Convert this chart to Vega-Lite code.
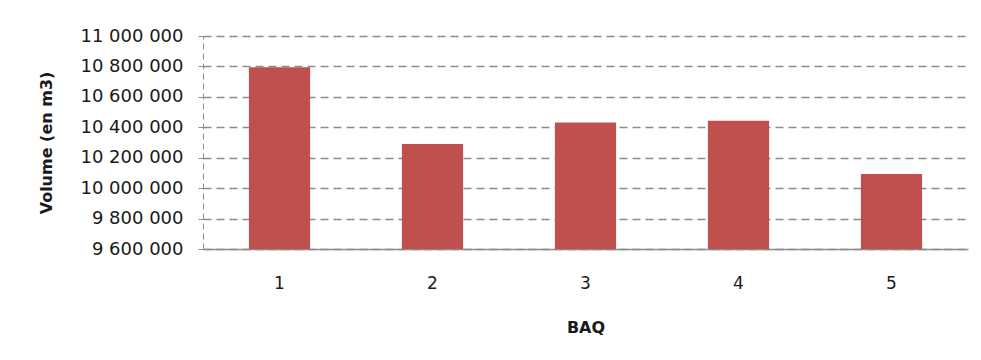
{
  "$schema": "https://vega.github.io/schema/vega-lite/v6.json",
  "width": 765,
  "height": 213,
  "autosize": {"type": "none"},
  "padding": {"left": 203, "top": 36, "right": 13, "bottom": 111},
  "background": "white",
  "config": {
    "view": {"stroke": null},
    "font": "DejaVu Sans",
    "locale": {
      "number": {"decimal": ",", "thousands": " ", "grouping": [3], "currency": ["", " €"]}
    }
  },
  "data": {
    "values": [
      {"BAQ": "1", "volume": 10795000},
      {"BAQ": "2", "volume": 10290000},
      {"BAQ": "3", "volume": 10432000},
      {"BAQ": "4", "volume": 10443000},
      {"BAQ": "5", "volume": 10093000}
    ]
  },
  "mark": {"type": "bar", "color": "#c0504d", "clip": true},
  "encoding": {
    "x": {
      "field": "BAQ",
      "type": "ordinal",
      "scale": {"paddingInner": 0.6, "paddingOuter": 0.3},
      "axis": {
        "title": "BAQ",
        "titleFontSize": 16,
        "titleFontWeight": "bold",
        "titleColor": "#1a1a1a",
        "titlePadding": 28,
        "labelAngle": 0,
        "labelFontSize": 17,
        "labelColor": "#1a1a1a",
        "labelPadding": 26,
        "ticks": false,
        "tickSize": 0,
        "domainColor": "#8c8c8c",
        "domainWidth": 1.5,
        "grid": false
      }
    },
    "y": {
      "field": "volume",
      "type": "quantitative",
      "scale": {"domain": [9600000, 11000000], "zero": false, "nice": false},
      "axis": {
        "title": "Volume (en m3)",
        "titleFontSize": 16,
        "titleFontWeight": "bold",
        "titleColor": "#1a1a1a",
        "titlePadding": 25,
        "values": [9600000, 9800000, 10000000, 10200000, 10400000, 10600000, 10800000, 11000000],
        "format": ",d",
        "labelFontSize": 18,
        "labelColor": "#1a1a1a",
        "labelPadding": 15,
        "tickSize": 5,
        "tickColor": "#8c8c8c",
        "domainColor": "#8c8c8c",
        "domainDash": [6, 4],
        "grid": true,
        "gridColor": "#8c8c8c",
        "gridDash": [8, 5],
        "gridWidth": 1.5
      }
    }
  }
}
